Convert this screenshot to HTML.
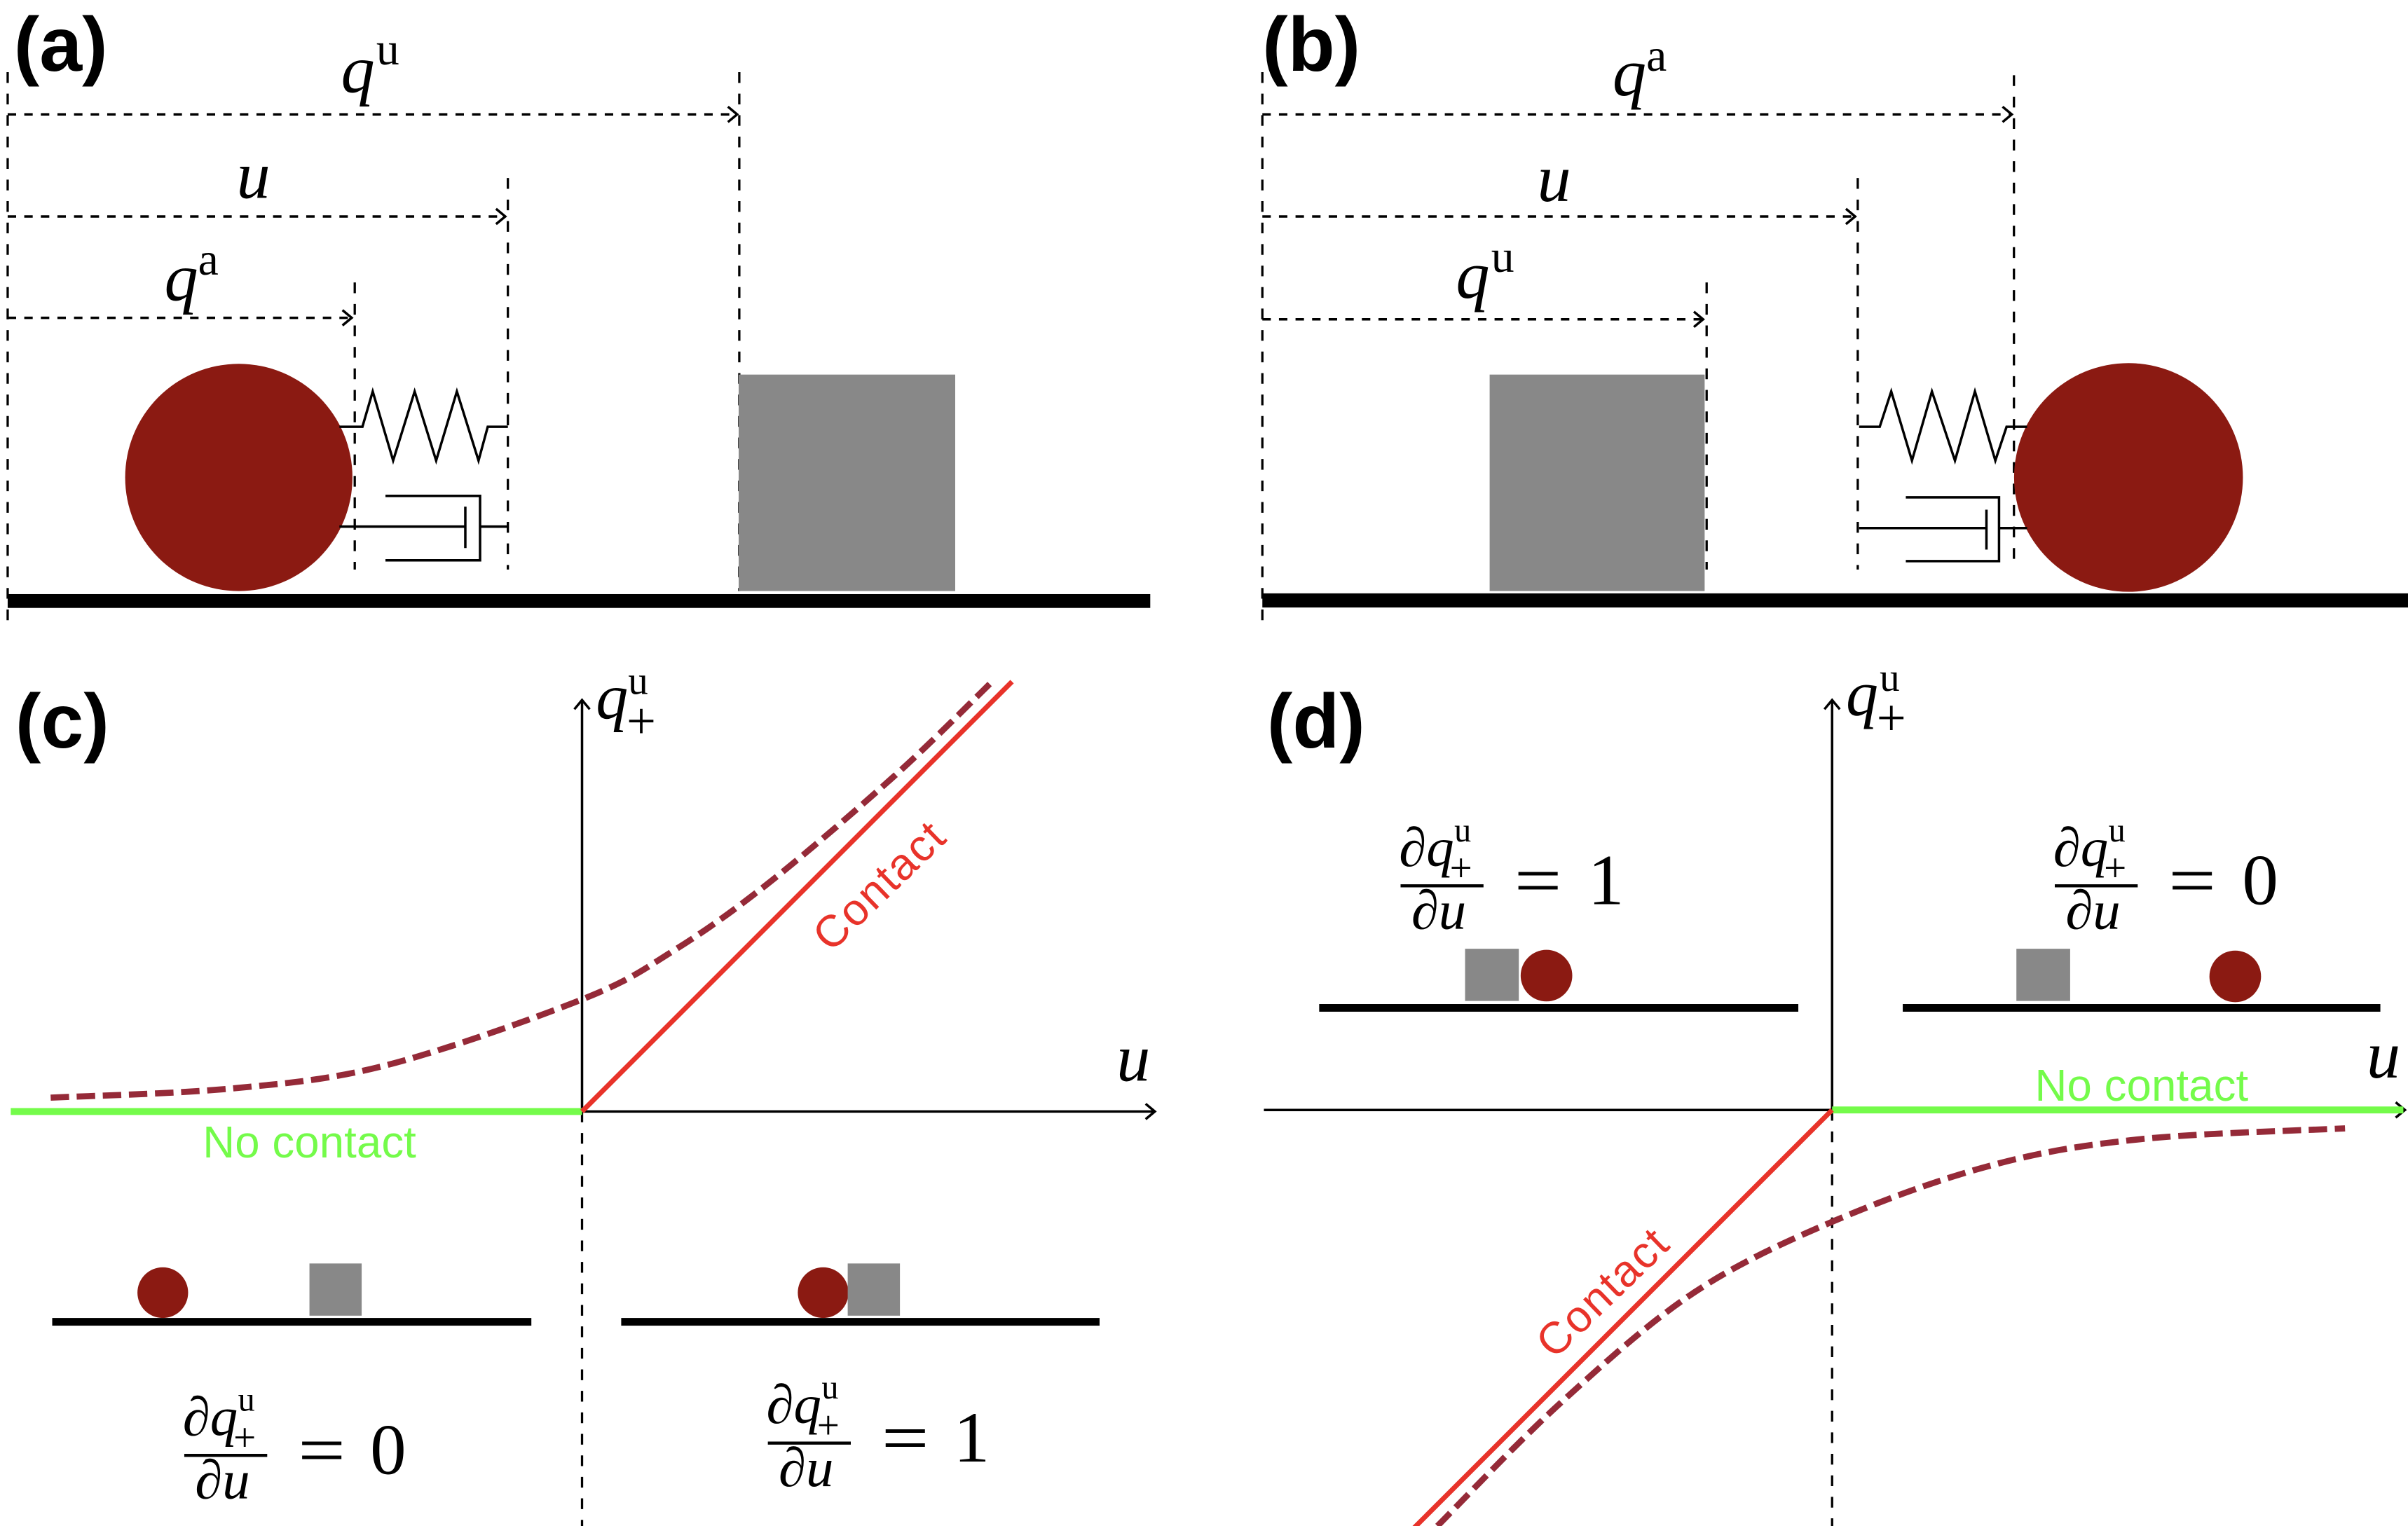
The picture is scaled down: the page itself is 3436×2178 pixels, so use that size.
<!DOCTYPE html>
<html><head><meta charset="utf-8">
<style>
html,body{margin:0;padding:0;background:#fff;}
svg{display:block;}
.m{font-family:"Liberation Serif",serif;font-style:italic;fill:#000;}
.r{font-family:"Liberation Serif",serif;fill:#000;}
.lab{font-family:"Liberation Sans",sans-serif;font-weight:bold;fill:#000;}
.s{font-family:"Liberation Sans",sans-serif;}
</style></head>
<body>
<svg id="fig" width="3436" height="2178" viewBox="0 0 1568 994" preserveAspectRatio="none" xmlns="http://www.w3.org/2000/svg">
<defs>
<clipPath id="clipAll"><rect x="0" y="0" width="1568" height="994"/></clipPath>
</defs>

<!-- ===== Panel (a) ===== -->
<g>
  <text class="lab" x="9" y="46" font-size="50">(a)</text>
  <g stroke="#000" stroke-width="1.5" fill="none" stroke-dasharray="7,7">
    <line x1="5" y1="47" x2="5" y2="411"/>
    <line x1="481.4" y1="47" x2="481.4" y2="385"/>
    <line x1="330.7" y1="116" x2="330.7" y2="371"/>
    <line x1="231" y1="184" x2="231" y2="371"/>
  </g>
  <g stroke="#000" stroke-width="1.6" fill="none">
    <line x1="5" y1="74.5" x2="479" y2="74.5" stroke-dasharray="5.5,5.3"/>
    <polyline points="474,69.5 480,74.5 474,79.5"/>
    <line x1="5" y1="141" x2="329" y2="141" stroke-dasharray="5.5,5.3"/>
    <polyline points="323,136 329,141 323,146"/>
    <line x1="5" y1="207" x2="229" y2="207" stroke-dasharray="5.5,5.3"/>
    <polyline points="223,202 229,207 223,212"/>
  </g>
  <text class="m" x="222" y="60" font-size="44">q</text>
  <text class="r" x="245" y="42" font-size="30">u</text>
  <text class="m" x="154" y="129" font-size="44">u</text>
  <text class="m" x="107" y="195.5" font-size="44">q</text>
  <text class="r" x="129" y="179" font-size="30">a</text>
  <circle cx="155.5" cy="311" r="74" fill="#8B1A12"/>
  <rect x="481" y="244" width="141" height="141" fill="#888888"/>
  <polyline points="221,278 236,278 242.7,255 256,300 270,255 284,300 297.5,255 311.6,300 317.6,278 330.7,278" fill="none" stroke="#000" stroke-width="1.6"/>
  <g stroke="#000" stroke-width="1.6" fill="none">
    <line x1="221" y1="343" x2="303" y2="343"/>
    <line x1="303" y1="330" x2="303" y2="357"/>
    <polyline points="251,323 312.6,323 312.6,365 251,365"/>
    <line x1="312.6" y1="343" x2="330.7" y2="343"/>
  </g>
  <rect x="5" y="387" width="744" height="9" fill="#000"/>
</g>

<!-- ===== Panel (b) ===== -->
<g>
  <text class="lab" x="822" y="46" font-size="50">(b)</text>
  <g stroke="#000" stroke-width="1.5" fill="none" stroke-dasharray="7,7">
    <line x1="822" y1="47" x2="822" y2="411"/>
    <line x1="1311.4" y1="49" x2="1311.4" y2="371"/>
    <line x1="1209.7" y1="116" x2="1209.7" y2="371"/>
    <line x1="1111.3" y1="184" x2="1111.3" y2="371"/>
  </g>
  <g stroke="#000" stroke-width="1.6" fill="none">
    <line x1="822" y1="74.5" x2="1309" y2="74.5" stroke-dasharray="5.5,5.3"/>
    <polyline points="1304,69.5 1310,74.5 1304,79.5"/>
    <line x1="822" y1="141" x2="1208" y2="141" stroke-dasharray="5.5,5.3"/>
    <polyline points="1202,136 1208,141 1202,146"/>
    <line x1="822" y1="208" x2="1109" y2="208" stroke-dasharray="5.5,5.3"/>
    <polyline points="1103,203 1109,208 1103,213"/>
  </g>
  <text class="m" x="1050" y="62" font-size="44">q</text>
  <text class="r" x="1072" y="46" font-size="30">a</text>
  <text class="m" x="1001" y="131" font-size="44">u</text>
  <text class="m" x="948" y="194" font-size="44">q</text>
  <text class="r" x="971" y="177" font-size="30">u</text>
  <rect x="970" y="244" width="140" height="141" fill="#888888"/>
  <circle cx="1386" cy="311" r="74.5" fill="#8B1A12"/>
  <polyline points="1210.6,278 1224,278 1231.5,255 1245,300 1258,255 1273,300 1286,255 1299.3,300 1306.6,278 1320,278" fill="none" stroke="#000" stroke-width="1.6"/>
  <g stroke="#000" stroke-width="1.6" fill="none">
    <line x1="1210.6" y1="344" x2="1293.5" y2="344"/>
    <line x1="1293.5" y1="332" x2="1293.5" y2="358"/>
    <polyline points="1241,324 1301.7,324 1301.7,365.5 1241,365.5"/>
    <line x1="1301.7" y1="344" x2="1320" y2="344"/>
  </g>
  <rect x="822" y="386.5" width="746" height="9.2" fill="#000"/>
</g>

<!-- ===== Panel (c) static ===== -->
<g>
  <text class="lab" x="10" y="487" font-size="50">(c)</text>
  <g id="plotC" clip-path="url(#clipAll)"></g>
  <text class="s" x="132" y="754" font-size="29" fill="#74FB4A" textLength="139">No contact</text>
  <text class="s" x="0" y="0" font-size="29" fill="#E8332A" textLength="106" transform="translate(541,621) rotate(-44)">Contact</text>
  <text class="m" x="388" y="468" font-size="42">q</text>
  <text class="r" x="409" y="452" font-size="26">u</text>
  <text class="r" x="408" y="481" font-size="34">+</text>
  <text class="m" x="727" y="704" font-size="44">u</text>
  <!-- mini scenes -->
  <rect x="34" y="858.5" width="312" height="5" fill="#000"/>
  <circle cx="106" cy="842" r="16.5" fill="#8B1A12"/>
  <rect x="201.5" y="823" width="34" height="34" fill="#888888"/>
  <rect x="404.5" y="858.5" width="311.5" height="5" fill="#000"/>
  <circle cx="536" cy="842" r="16.5" fill="#8B1A12"/>
  <rect x="552" y="823" width="34" height="34" fill="#888888"/>
  <!-- fractions -->
  <g transform="translate(120,948)">
    <text class="m" x="-1" y="-13" font-size="36">∂q</text>
    <text class="r" x="35" y="-29" font-size="22">u</text>
    <text class="r" x="32" y="-3" font-size="26">+</text>
    <rect x="0" y="-1" width="54" height="2" fill="#000"/>
    <text class="m" x="7" y="28" font-size="36">∂u</text>
    <text class="r" x="74" y="12" font-size="46" textLength="31" lengthAdjust="spacingAndGlyphs">=</text>
    <text class="r" x="121" y="12" font-size="47">0</text>
  </g>
  <g transform="translate(500,940)">
    <text class="m" x="-1" y="-13" font-size="36">∂q</text>
    <text class="r" x="35" y="-29" font-size="22">u</text>
    <text class="r" x="32" y="-3" font-size="26">+</text>
    <rect x="0" y="-1" width="54" height="2" fill="#000"/>
    <text class="m" x="7" y="28" font-size="36">∂u</text>
    <text class="r" x="74" y="12" font-size="46" textLength="31" lengthAdjust="spacingAndGlyphs">=</text>
    <text class="r" x="121" y="12" font-size="47">1</text>
  </g>
</g>

<!-- ===== Panel (d) static ===== -->
<g>
  <text class="lab" x="825" y="487" font-size="50">(d)</text>
  <g id="plotD" clip-path="url(#clipAll)"></g>
  <text class="s" x="1325" y="717" font-size="29" fill="#74FB4A" textLength="139">No contact</text>
  <text class="s" x="0" y="0" font-size="29" fill="#E8332A" textLength="106" transform="translate(1012,886) rotate(-44)">Contact</text>
  <text class="m" x="1202" y="466" font-size="42">q</text>
  <text class="r" x="1224" y="450" font-size="26">u</text>
  <text class="r" x="1222" y="479" font-size="34">+</text>
  <text class="m" x="1541" y="702" font-size="44">u</text>
  <rect x="859" y="654" width="312" height="5" fill="#000"/>
  <rect x="954" y="618" width="35" height="34" fill="#888888"/>
  <circle cx="1007" cy="635.5" r="16.8" fill="#8B1A12"/>
  <rect x="1239" y="654" width="311" height="5" fill="#000"/>
  <rect x="1313" y="618" width="35" height="34" fill="#888888"/>
  <circle cx="1455.5" cy="636" r="16.8" fill="#8B1A12"/>
  <g transform="translate(912,577)">
    <text class="m" x="-1" y="-13" font-size="36">∂q</text>
    <text class="r" x="35" y="-29" font-size="22">u</text>
    <text class="r" x="32" y="-3" font-size="26">+</text>
    <rect x="0" y="-1" width="54" height="2" fill="#000"/>
    <text class="m" x="7" y="28" font-size="36">∂u</text>
    <text class="r" x="74" y="12" font-size="46" textLength="31" lengthAdjust="spacingAndGlyphs">=</text>
    <text class="r" x="122" y="12" font-size="47">1</text>
  </g>
  <g transform="translate(1338,577)">
    <text class="m" x="-1" y="-13" font-size="36">∂q</text>
    <text class="r" x="35" y="-29" font-size="22">u</text>
    <text class="r" x="32" y="-3" font-size="26">+</text>
    <rect x="0" y="-1" width="54" height="2" fill="#000"/>
    <text class="m" x="7" y="28" font-size="36">∂u</text>
    <text class="r" x="74" y="12" font-size="46" textLength="31" lengthAdjust="spacingAndGlyphs">=</text>
    <text class="r" x="122" y="12" font-size="47">0</text>
  </g>
</g>
</svg>

<script>
// ---- Panel (c) data (u, q^u_+) ----
const cSmoothU = [-3.46, -2.28, -1.28, 0, 0.6, 1.23, 2.05, 2.67];
const cSmoothQ = [0.09, 0.15, 0.30, 0.73, 1.05, 1.50, 2.20, 2.80];
const cContactU = [0, 2.80];
const cContactQ = [0, 2.80];
const cNoContactU = [-3.72, 0];
const cNoContactQ = [0, 0];
// ---- Panel (d) data ----
const dSmoothU = [-2.57, -1.77, -0.90, 0.02, 1.04, 2.01, 3.34];
const dSmoothQ = [-2.71, -1.91, -1.19, -0.72, -0.36, -0.19, -0.12];
const dContactU = [-2.75, 0];
const dContactQ = [-2.75, 0];
const dNoContactU = [0, 3.72];
const dNoContactQ = [0, 0];

const NS = 'http://www.w3.org/2000/svg';
function mk(tag, attrs, parent){ const e=document.createElementNS(NS,tag); for(const k in attrs) e.setAttribute(k,attrs[k]); parent.appendChild(e); return e; }

function makeAxes(ox, oy, k){
  return { x: u => ox + u*k, y: q => oy - q*k };
}
function smoothPath(xs, ys){
  let d = 'M' + xs[0] + ',' + ys[0];
  for (let i=0;i<xs.length-1;i++){
    const x0 = xs[Math.max(i-1,0)], y0 = ys[Math.max(i-1,0)];
    const x1 = xs[i], y1 = ys[i], x2 = xs[i+1], y2 = ys[i+1];
    const x3 = xs[Math.min(i+2,xs.length-1)], y3 = ys[Math.min(i+2,xs.length-1)];
    const c1x = x1 + (x2-x0)/6, c1y = y1 + (y2-y0)/6;
    const c2x = x2 - (x3-x1)/6, c2y = y2 - (y3-y1)/6;
    d += ' C' + c1x + ',' + c1y + ' ' + c2x + ',' + c2y + ' ' + x2 + ',' + y2;
  }
  return d;
}

function drawPanel(g, ax, ox, oy, xl, xr, yTop, sU, sQ, cU, cQ, nU, nQ, tag){
  const yAxis = mk('line',{x1:ox,y1:oy,x2:ox,y2:yTop,stroke:'#000','stroke-width':1.6},g);
  
  
  mk('polyline',{points:(ox-5)+','+(yTop+6)+' '+ox+','+yTop+' '+(ox+5)+','+(yTop+6),fill:'none',stroke:'#000','stroke-width':1.6},g);
  const yDash = mk('line',{x1:ox,y1:oy,x2:ox,y2:994,stroke:'#000','stroke-width':1.5,'stroke-dasharray':'7,7'},g);
  
  
  const xAxis = mk('line',{x1:xl,y1:oy,x2:xr,y2:oy,stroke:'#000','stroke-width':1.6},g);
  
  
  mk('polyline',{points:(xr-6)+','+(oy-5)+' '+xr+','+oy+' '+(xr-6)+','+(oy+5),fill:'none',stroke:'#000','stroke-width':1.6},g);
  const gl = mk('line',{x1:ax.x(nU[0]),y1:ax.y(nQ[0]),x2:ax.x(nU[1]),y2:ax.y(nQ[1]),stroke:'#74FB4A','stroke-width':4.5},g);
  
  
  const rl = mk('line',{x1:ax.x(cU[0]),y1:ax.y(cQ[0]),x2:ax.x(cU[1]),y2:ax.y(cQ[1]),stroke:'#E8332A','stroke-width':3.2},g);
  
  
  const xs = sU.map(ax.x), ys = sQ.map(ax.y);
  const sp = mk('path',{d:smoothPath(xs,ys),fill:'none',stroke:'#952A38','stroke-width':4,'stroke-dasharray':'12,5'},g);
  
  
}

const axC = makeAxes(379, 724, 100);
drawPanel(document.getElementById('plotC'), axC, 379, 724, 379, 752, 456,
  cSmoothU, cSmoothQ, cContactU, cContactQ, cNoContactU, cNoContactQ, 'c');
const axD = makeAxes(1193, 723, 100);
drawPanel(document.getElementById('plotD'), axD, 1193, 723, 823, 1566, 456,
  dSmoothU, dSmoothQ, dContactU, dContactQ, dNoContactU, dNoContactQ, 'd');
</script>
</body></html>
